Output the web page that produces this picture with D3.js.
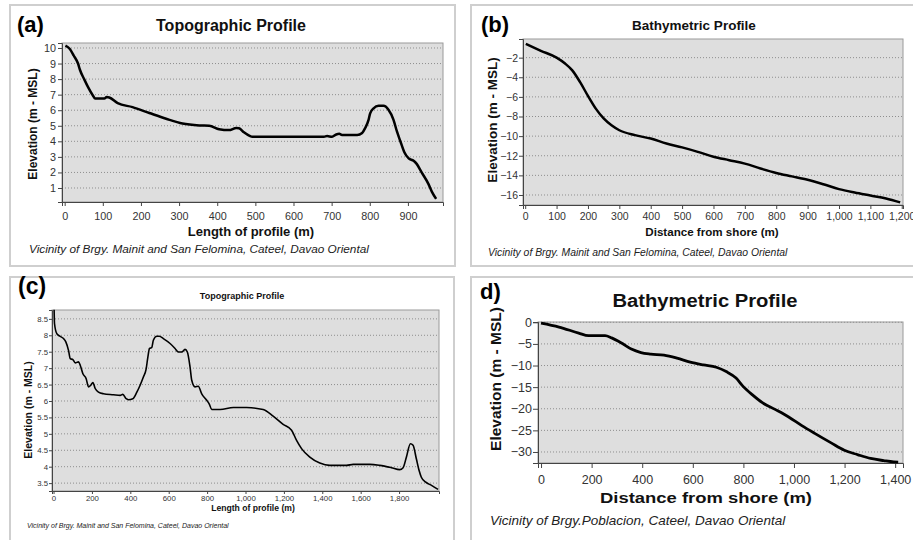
<!DOCTYPE html>
<html>
<head>
<meta charset="utf-8">
<script src="https://cdn.jsdelivr.net/npm/d3@7"></script>
<style>
  body { margin: 0; background: #fff; }
  svg { display: block; font-family: "Liberation Sans", Arial, sans-serif; }
</style>
</head>
<body>
<div id="viz"></div>
<script>
// (a) topographic profile, Mainit / San Felomina
const aDist = [2, 13, 24, 35, 40, 52, 61, 74, 80, 104, 110, 117, 139, 178, 222, 266, 309, 353, 379, 405, 431, 450, 457, 470, 485, 492, 680, 688, 701, 712, 720, 727, 767, 780, 788, 797, 801, 810, 823, 836, 849, 862, 871, 880, 891, 902, 915, 923, 936, 954, 963, 974]
const aElev = [10.15, 9.95, 9.5, 9.0, 8.6, 7.95, 7.5, 6.95, 6.75, 6.75, 6.85, 6.82, 6.45, 6.2, 5.82, 5.45, 5.14, 5.02, 5.0, 4.78, 4.72, 4.86, 4.84, 4.58, 4.35, 4.29, 4.29, 4.34, 4.29, 4.44, 4.48, 4.41, 4.41, 4.54, 4.86, 5.39, 5.8, 6.12, 6.28, 6.28, 6.03, 5.4, 4.65, 4.02, 3.28, 2.9, 2.75, 2.55, 2.0, 1.25, 0.75, 0.3]
const aXTicks = [0, 100, 200, 300, 400, 500, 600, 700, 800, 900]
const aYTicks = [1, 2, 3, 4, 5, 6, 7, 8, 9, 10]

// (b) bathymetric profile, Mainit / San Felomina
const bDist = [2, 50, 100, 127, 150, 175, 200, 225, 250, 275, 300, 350, 400, 450, 500, 550, 600, 650, 700, 750, 800, 850, 900, 950, 1000, 1050, 1100, 1150, 1195]
const bElev = [-0.6, -1.3, -2.0, -2.6, -3.3, -4.5, -5.9, -7.2, -8.2, -8.9, -9.4, -9.9, -10.25, -10.75, -11.15, -11.6, -12.1, -12.45, -12.8, -13.3, -13.75, -14.1, -14.45, -14.9, -15.4, -15.75, -16.05, -16.35, -16.75]
const bXTicks = [0, 100, 200, 300, 400, 500, 600, 700, 800, 900, 1000, 1100, 1200]
const bYTicks = [-16, -14, -12, -10, -8, -6, -4, -2]

// (c) topographic profile, second line
const cDist = [3, 5, 17, 31, 52, 64, 78, 87, 101, 113, 130, 139, 153, 170, 182, 194, 205, 217, 234, 260, 312, 347, 361, 378, 390, 413, 434, 451, 468, 482, 491, 500, 512, 520, 538, 551, 572, 607, 633, 650, 668, 685, 697, 711, 720, 737, 754, 772, 798, 812, 824, 868, 937, 1006, 1092, 1144, 1196, 1240, 1266, 1292, 1335, 1387, 1439, 1526, 1561, 1647, 1699, 1760, 1803, 1821, 1838, 1859, 1873, 1890, 1904, 1916, 1939, 1969, 2003]
const cElev = [8.78, 8.36, 8.05, 7.98, 7.9, 7.8, 7.54, 7.29, 7.26, 7.16, 7.19, 7.09, 6.83, 6.68, 6.43, 6.48, 6.56, 6.38, 6.27, 6.22, 6.19, 6.17, 6.2, 6.07, 6.04, 6.07, 6.27, 6.48, 6.73, 6.96, 7.32, 7.6, 7.63, 7.85, 7.97, 7.97, 7.9, 7.75, 7.6, 7.49, 7.49, 7.57, 7.49, 7.04, 6.63, 6.43, 6.45, 6.22, 6.02, 5.9, 5.74, 5.74, 5.8, 5.8, 5.74, 5.54, 5.29, 5.11, 4.8, 4.55, 4.29, 4.11, 4.04, 4.04, 4.07, 4.07, 4.04, 3.97, 3.91, 3.97, 4.29, 4.7, 4.65, 4.24, 3.89, 3.68, 3.53, 3.43, 3.31]
const cXTicks = [0, 200, 400, 600, 800, 1000, 1200, 1400, 1600, 1800]
const cYTicks = [3.5, 4, 4.5, 5, 5.5, 6, 6.5, 7, 7.5, 8, 8.5]

// (d) bathymetric profile, Poblacion
const dDist = [0, 71, 149, 188, 253, 279, 318, 357, 395, 434, 486, 538, 590, 642, 693, 732, 771, 797, 836, 875, 927, 979, 1031, 1082, 1147, 1199, 1251, 1303, 1355, 1394, 1412]
const dElev = [-0.2, -1.1, -2.5, -3.1, -3.1, -3.6, -4.8, -6.2, -7.0, -7.35, -7.6, -8.3, -9.2, -9.85, -10.4, -11.4, -12.9, -14.7, -16.8, -18.6, -20.2, -21.9, -23.9, -25.7, -27.9, -29.6, -30.6, -31.5, -32.0, -32.3, -32.35]
const dXTicks = [0, 200, 400, 600, 800, 1000, 1200, 1400]
const dYTicks = [-30, -25, -20, -15, -10, -5, 0]

const yTitle = 'Elevation (m - MSL)'
const topoX = 'Length of profile (m)'
const bathyX = 'Distance from shore (m)'
const note1 = 'Vicinity of Brgy. Mainit and San Felomina, Cateel, Davao Oriental'
const note2 = 'Vicinity of Brgy.Poblacion, Cateel, Davao Oriental'

const width = 913, height = 540

const svg = d3.select('#viz').append('svg')
    .attr('width', width)
    .attr('height', height)
    .attr('viewBox', [0, 0, width, height])

// positions: [x, y, font size, stretched width or null]
const panels = [
    {
        tag: '(a)', title: 'Topographic Profile', xLabel: topoX, note: note1,
        xs: aDist, ys: aElev, xTicks: aXTicks, yTicks: aYTicks, xFmt: d3.format('d'), yFmt: d3.format('d'),
        frame: [10, 5, 455, 266], plot: [62, 43, 443, 202], xDom: [-7, 992], yDom: [0.1, 10.32],
        tagPos: [17, 32, 22], titlePos: [231, 31, 16], yLabPos: [37, 124, 12], xLabPos: [251, 236, 13],
        notePos: [29, 253, 11.8], tickSize: 10.8, tickLen: 4, tickPad: [6, 2], lw: 2.5
    },
    {
        tag: '(b)', title: 'Bathymetric Profile', xLabel: bathyX, note: note1,
        xs: bDist, ys: bElev, xTicks: bXTicks, yTicks: bYTicks, xFmt: d3.format(','), yFmt: d3.format('d'),
        frame: [471, 5, 915, 266], plot: [523, 39, 903, 205], xDom: [-7, 1204], yDom: [-17.02, -0.1],
        tagPos: [481, 32, 22], titlePos: [694, 30, 13.5], yLabPos: [497, 120, 13.5], xLabPos: [712, 236, 11.6],
        notePos: [488, 256, 10.4], tickSize: 10.5, tickLen: 4, tickPad: [4, 1], lw: 2.5
    },
    {
        tag: '(c)', title: 'Topographic Profile', xLabel: topoX, note: note1,
        xs: cDist, ys: cElev, xTicks: cXTicks, yTicks: cYTicks, xFmt: d3.format(','), yFmt: d3.format(''),
        frame: [10, 277, 454, 545], plot: [52, 310, 439, 491], xDom: [-8, 2008], yDom: [3.26, 8.77],
        tagPos: [18, 294, 23], titlePos: [242, 299, 9], yLabPos: [32, 410, 10.5], xLabPos: [253, 511, 8.6],
        notePos: [27, 528, 7], tickSize: 7.8, tickLen: 3, tickPad: [1, 1], lw: 1.6
    },
    {
        tag: 'd)', title: 'Bathymetric Profile', xLabel: bathyX, note: note2,
        xs: dDist, ys: dElev, xTicks: dXTicks, yTicks: dYTicks, xFmt: d3.format(','), yFmt: d3.format('d'),
        frame: [471, 277, 915, 545], plot: [538, 322, 903, 463], xDom: [-12, 1431], yDom: [-32.55, 0.07],
        tagPos: [480, 299, 22], titlePos: [705, 307, 18, 185], yLabPos: [501, 379, 15.5], xLabPos: [706, 503, 15, 212],
        notePos: [490, 525, 13.5], tickSize: 12.5, tickLen: 5, tickPad: [7, 1], lw: 2.8
    }
]

panels.forEach(p => drawPanel(p))

function drawPanel(p) {
    const [fx0, fy0, fx1, fy1] = p.frame
    const [px0, py0, px1, py1] = p.plot

    // panel box
    svg.append('rect')
        .attr('x', fx0).attr('y', fy0)
        .attr('width', fx1 - fx0).attr('height', fy1 - fy0)
        .attr('fill', '#fff')
        .attr('stroke', '#cfcfcf')
        .attr('stroke-width', 2)

    const x = d3.scaleLinear().domain(p.xDom).range([px0, px1])
    const y = d3.scaleLinear().domain(p.yDom).range([py1, py0])

    // plot background
    svg.append('rect')
        .attr('x', px0).attr('y', py0)
        .attr('width', px1 - px0).attr('height', py1 - py0)
        .attr('fill', '#dedede')

    // dotted grid
    svg.append('g').selectAll('line').data(p.yTicks)
        .enter().append('line')
        .attr('x1', px0).attr('x2', px1)
        .attr('y1', d => y(d)).attr('y2', d => y(d))
        .attr('stroke', '#7a7a7a')
        .attr('stroke-width', 0.8)
        .attr('stroke-dasharray', '1,2')

    svg.append('rect')
        .attr('x', px0).attr('y', py0)
        .attr('width', px1 - px0).attr('height', py1 - py0)
        .attr('fill', 'none')
        .attr('stroke', '#9a9a9a')

    const xAxisG = svg.append('g')
        .attr('transform', `translate(0, ${py1})`)
        .call(d3.axisBottom(x).tickValues(p.xTicks).tickFormat(p.xFmt).tickSize(p.tickLen).tickPadding(p.tickPad[0]))
    const yAxisG = svg.append('g')
        .attr('transform', `translate(${px0}, 0)`)
        .call(d3.axisLeft(y).tickValues(p.yTicks).tickFormat(p.yFmt).tickSize(p.tickLen).tickPadding(p.tickPad[1]))

    ;[xAxisG, yAxisG].forEach(a => {
        a.select('.domain').attr('stroke', '#444')
        a.selectAll('.tick line').attr('stroke', '#444')
        a.selectAll('text')
            .attr('fill', '#333')
            .style('font-size', p.tickSize + 'px')
            .style('font-family', '"Liberation Sans", Arial, sans-serif')
    })

    // profile line
    const pts = p.xs.map((d, i) => [d, p.ys[i]])
    const line = d3.line()
        .x(d => x(d[0]))
        .y(d => y(d[1]))
        .curve(d3.curveMonotoneX)
    svg.append('path')
        .datum(pts)
        .attr('d', line)
        .attr('fill', 'none')
        .attr('stroke', '#000')
        .attr('stroke-width', p.lw)
        .attr('stroke-linejoin', 'round')

    // texts
    svg.append('text')
        .attr('x', p.tagPos[0]).attr('y', p.tagPos[1])
        .style('font-size', p.tagPos[2] + 'px')
        .style('font-weight', 'bold')
        .text(p.tag)

    const title = svg.append('text')
        .attr('x', p.titlePos[0]).attr('y', p.titlePos[1])
        .attr('text-anchor', 'middle')
        .style('font-size', p.titlePos[2] + 'px')
        .style('font-weight', 'bold')
        .attr('fill', '#111')
        .text(p.title)
    if (p.titlePos[3]) title.attr('textLength', p.titlePos[3]).attr('lengthAdjust', 'spacingAndGlyphs')

    svg.append('text')
        .attr('transform', `translate(${p.yLabPos[0]}, ${p.yLabPos[1]}) rotate(-90)`)
        .attr('text-anchor', 'middle')
        .style('font-size', p.yLabPos[2] + 'px')
        .style('font-weight', 'bold')
        .attr('fill', '#111')
        .text(yTitle)

    const xl = svg.append('text')
        .attr('x', p.xLabPos[0]).attr('y', p.xLabPos[1])
        .attr('text-anchor', 'middle')
        .style('font-size', p.xLabPos[2] + 'px')
        .style('font-weight', 'bold')
        .attr('fill', '#111')
        .text(p.xLabel)
    if (p.xLabPos[3]) xl.attr('textLength', p.xLabPos[3]).attr('lengthAdjust', 'spacingAndGlyphs')

    svg.append('text')
        .attr('x', p.notePos[0]).attr('y', p.notePos[1])
        .style('font-size', p.notePos[2] + 'px')
        .style('font-style', 'italic')
        .attr('fill', '#222')
        .text(p.note)
}
</script>
</body>
</html>
